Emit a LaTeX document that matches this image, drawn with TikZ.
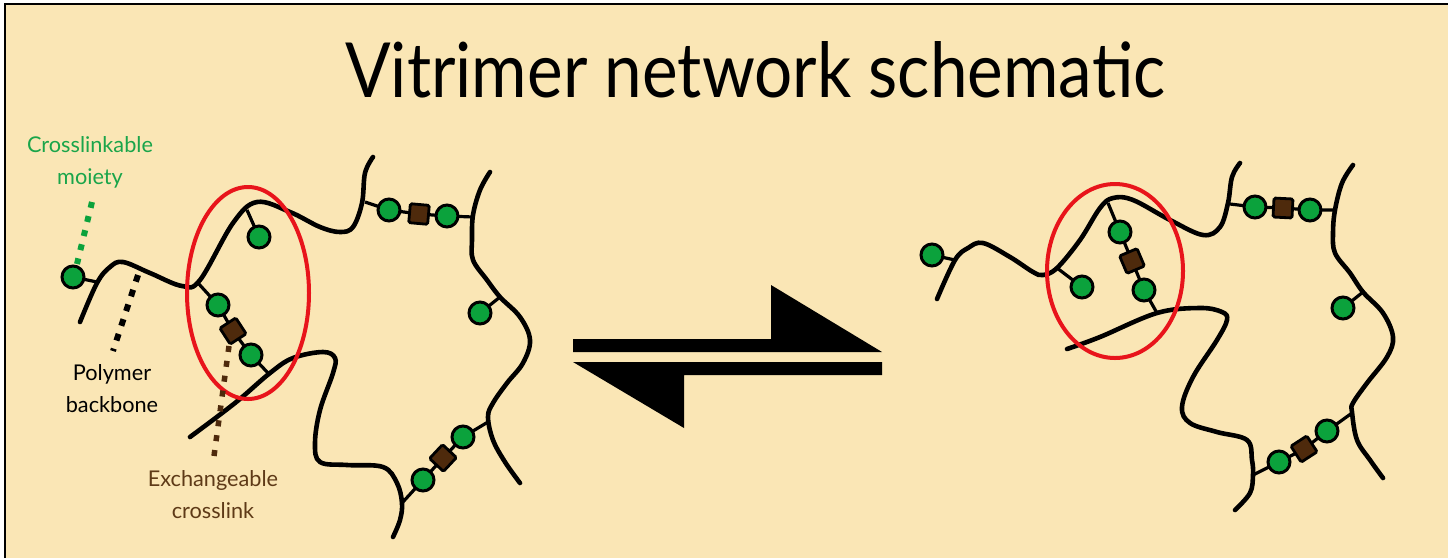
\documentclass[tikz,border=0pt]{standalone}
\usepackage{fontspec}
\newfontfamily\labfont{Lato}
\definecolor{bgbeige}{HTML}{FAE6B5}
\definecolor{moietygreen}{HTML}{0BA23C}
\definecolor{labgreen}{HTML}{1AA54A}
\definecolor{linkbrown}{HTML}{4E2A0C}
\definecolor{labbrown}{HTML}{5E3A17}
\definecolor{ringred}{HTML}{E8141B}
\begin{document}
\begin{tikzpicture}[x=1pt,y=-1pt,
  backbone/.style={line width=4.6pt,line cap=round,line join=round},
  stub/.style={line width=3.2pt},
  moiety/.style={circle,draw=black,line width=3pt,fill=moietygreen,minimum size=22pt,inner sep=0pt},
  xlink/.style={rectangle,draw=black,line width=2.8pt,fill=linkbrown,minimum size=19pt,inner sep=0pt,rounded corners=1.5pt},
  ring/.style={draw=ringred,line width=4pt},
  lbl/.style={font=\labfont\fontsize{21.7}{26}\selectfont,anchor=base,inner sep=0pt},
  pointer/.style={line width=6pt,dash pattern=on 6pt off 8.5pt},
  eqarrow/.style={fill=black}]
% page and frame
\useasboundingbox (0,0) rectangle (1448,558);
\fill[white] (0,0) rectangle (1448,558);
\fill[bgbeige] (5,4) rectangle (1448,558);
\draw[line width=2pt] (5,558) -- (5,4) -- (1448,4);
% title
\node[anchor=base west,inner sep=0pt] (title) at (345,97)
  {\resizebox{820pt}{56pt}{\labfont Vitrimer network schematic}};

% ===== left network: backbones =====
\draw[backbone] plot[smooth,tension=0.6] coordinates {(80,322) (97,283) (110,267) (123,262) (150,273) (182,286) (200,280) (233,223) (257,202) (290,212) (320,227) (340,232) (353,227) (362,203) (365,173) (373,157)};
\draw[backbone] plot[smooth,tension=0.6] coordinates {(190,437) (235,403) (270,373) (293,358) (323,352) (335,358) (333,373) (320,410) (315,443) (320,462) (347,465) (383,467) (397,483) (402,503) (400,520) (393,537)};
\draw[backbone] plot[smooth,tension=0.6] coordinates {(490,172) (480,190) (473,215) (472,240) (473,260) (487,280) (500,297) (520,317) (530,340) (523,363) (507,383) (493,403) (488,417) (493,440) (505,462) (520,483)};

% left network: moieties and crosslinks
\coordinate (la0) at (97,282);  \coordinate (la1) at (73,277);
\coordinate (lb0) at (247,210); \coordinate (lb1) at (259,237);
\coordinate (lc0) at (198,283); \coordinate (lc1) at (218,305); \coordinate (lc2) at (233,331); \coordinate (lc3) at (251,355); \coordinate (lc4) at (268,373);
\coordinate (ld0) at (365,202); \coordinate (ld1) at (389,210); \coordinate (ld2) at (419,214); \coordinate (ld3) at (447,216); \coordinate (ld4) at (473,217);
\coordinate (le0) at (500,297); \coordinate (le1) at (480,313);
\coordinate (lf0) at (402,503); \coordinate (lf1) at (423,480); \coordinate (lf2) at (443,458); \coordinate (lf3) at (463,437); \coordinate (lf4) at (488,422);
\draw[stub] (la0) -- (la1);
\draw[stub] (lb0) -- (lb1);
\draw[stub] (lc0) -- (lc1) -- (lc2) -- (lc3) -- (lc4);
\draw[stub] (ld0) -- (ld1) -- (ld2) -- (ld3) -- (ld4);
\draw[stub] (le0) -- (le1);
\draw[stub] (lf0) -- (lf1) -- (lf2) -- (lf3) -- (lf4);
\node[moiety] (mA) at (la1) {};
\node[moiety] (mB) at (lb1) {};
\node[moiety] (mC1) at (lc1) {};
\node[xlink,rotate=33] (xC) at (lc2) {};
\node[moiety] (mC2) at (lc3) {};
\node[moiety] (mD1) at (ld1) {};
\node[xlink,rotate=-5] (xD) at (ld2) {};
\node[moiety] (mD2) at (ld3) {};
\node[moiety] (mE) at (le1) {};
\node[moiety] (mF1) at (lf1) {};
\node[xlink,rotate=47] (xF) at (lf2) {};
\node[moiety] (mF2) at (lf3) {};

\draw[ring] (248,293) ellipse [x radius=61,y radius=106];

% labels
\node[lbl,text=labgreen] (crossA) at (90,152) {Crosslinkable};
\node[lbl,text=labgreen] (crossB) at (90,184) {moiety};
\node[lbl,text=black] (polyA) at (112,380) {Polymer};
\node[lbl,text=black] (polyB) at (112,412) {backbone};
\node[lbl,text=labbrown] (exchA) at (213,486) {Exchangeable};
\node[lbl,text=labbrown] (exchB) at (213,518) {crosslink};
\coordinate (pg1) at (92,202); \coordinate (pg2) at (77,264);
\coordinate (pk1) at (138,275); \coordinate (pk2) at (113,351);
\coordinate (pb1) at (229,346); \coordinate (pb2) at (214,456);
\draw[pointer,draw=moietygreen] (pg1) -- (pg2);
\draw[pointer,draw=black,dash pattern=on 7pt off 8.5pt] (pk1) -- (pk2);
\draw[pointer,draw=linkbrown,line width=5.5pt,dash pattern=on 6pt off 9pt] (pb1) -- (pb2);

% equilibrium arrows
\fill[eqarrow] (573,339) -- (771,339) -- (771,285) -- (882,352) -- (573,352) -- cycle;
\fill[eqarrow] (882,362) -- (882,375) -- (684,375) -- (684,428) -- (573,362) -- cycle;

% ===== right network: backbones =====
\draw[backbone] plot[smooth,tension=0.6] coordinates {(937,299) (955,260) (968,248) (983,243) (1010,257) (1033,272) (1043,275) (1057,268) (1080,240) (1100,208) (1113,198) (1133,200) (1170,220) (1203,235) (1220,227) (1228,203) (1232,177) (1240,163)};
\draw[backbone] plot[smooth,tension=0.6] coordinates {(1067,349) (1100,337) (1157,313) (1200,308) (1222,312) (1227,320) (1217,340) (1193,377) (1182,407) (1190,423) (1217,432) (1247,440) (1252,460) (1253,475) (1250,493) (1235,510)};
\draw[backbone] plot[smooth,tension=0.6] coordinates {(1353,165) (1342,183) (1335,210) (1333,233) (1335,253) (1350,273) (1363,292) (1383,313) (1393,337) (1387,357) (1367,383) (1353,403) (1352,412) (1357,440) (1370,460) (1383,478)};

\coordinate (ra0) at (955,260);  \coordinate (ra1) at (932,255);
\coordinate (rb0) at (1057,268); \coordinate (rb1) at (1082,287);
\coordinate (rc0) at (1108,203); \coordinate (rc1) at (1120,232); \coordinate (rc2) at (1132,261); \coordinate (rc3) at (1144,290); \coordinate (rc4) at (1157,313);
\coordinate (rd0) at (1230,204); \coordinate (rd1) at (1255,207); \coordinate (rd2) at (1283,208); \coordinate (rd3) at (1310,210); \coordinate (rd4) at (1335,210);
\coordinate (re0) at (1363,292); \coordinate (re1) at (1343,308);
\coordinate (rf0) at (1253,475); \coordinate (rf1) at (1279,462); \coordinate (rf2) at (1304,449); \coordinate (rf3) at (1327,431); \coordinate (rf4) at (1352,413);
\draw[stub] (ra0) -- (ra1);
\draw[stub] (rb0) -- (rb1);
\draw[stub] (rc0) -- (rc1) -- (rc2) -- (rc3) -- (rc4);
\draw[stub] (rd0) -- (rd1) -- (rd2) -- (rd3) -- (rd4);
\draw[stub] (re0) -- (re1);
\draw[stub] (rf0) -- (rf1) -- (rf2) -- (rf3) -- (rf4);
\node[moiety] (nA) at (ra1) {};
\node[moiety] (nB) at (rb1) {};
\node[moiety] (nC1) at (rc1) {};
\node[xlink,rotate=23] (yC) at (rc2) {};
\node[moiety] (nC2) at (rc3) {};
\node[moiety] (nD1) at (rd1) {};
\node[xlink,rotate=-3] (yD) at (rd2) {};
\node[moiety] (nD2) at (rd3) {};
\node[moiety] (nE) at (re1) {};
\node[moiety] (nF1) at (rf1) {};
\node[xlink,rotate=33] (yF) at (rf2) {};
\node[moiety] (nF2) at (rf3) {};

\draw[ring] (1115,271) ellipse [x radius=68,y radius=87];
\end{tikzpicture}
\end{document}
